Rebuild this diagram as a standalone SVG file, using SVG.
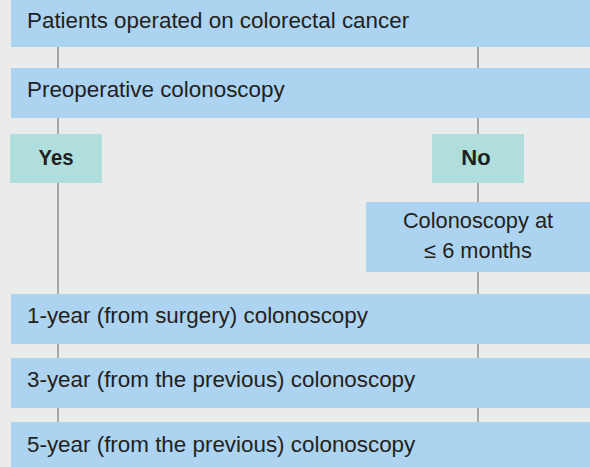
<svg xmlns="http://www.w3.org/2000/svg" width="590" height="467" viewBox="0 0 590 467">
<style>
.bar{fill:#acd3ef}
.tag{fill:#b0dedc}
.t{font-family:"Liberation Sans",Arial,sans-serif;font-size:22.4px;fill:#231f20}
.b{font-weight:bold;text-anchor:middle;font-size:22px}
.c{text-anchor:middle;font-size:21.8px}
.ln{stroke:#a6a6a6;stroke-width:2;fill:none}
</style>
<rect width="590" height="467" fill="#eaeceb"/>
<g id="connectors">
<line class="ln" x1="58" y1="40" x2="58" y2="430"/>
<line class="ln" x1="478" y1="40" x2="478" y2="430"/>
</g>
<g id="n1"><rect class="bar" x="11" y="-1" width="579" height="48"/><text class="t" x="27" y="28">Patients operated on colorectal cancer</text></g>
<g id="n2"><rect class="bar" x="11" y="68" width="579" height="50"/><text class="t" x="27" y="97">Preoperative colonoscopy</text></g>
<g id="yes"><rect class="tag" x="10" y="134" width="92" height="49"/><text class="t b" x="56" y="165" textLength="35" lengthAdjust="spacingAndGlyphs">Yes</text></g>
<g id="no"><rect class="tag" x="432" y="134" width="92" height="49"/><text class="t b" x="476" y="165">No</text></g>
<g id="n6m"><rect class="bar" x="366" y="202" width="224" height="70"/><text class="t c" x="478" y="228">Colonoscopy at</text><text class="t c" x="478" y="258">≤ 6 months</text></g>
<g id="n3"><rect class="bar" x="11" y="294" width="579" height="50"/><text class="t" x="27" y="323">1-year (from surgery) colonoscopy</text></g>
<g id="n4"><rect class="bar" x="11" y="358" width="579" height="50"/><text class="t" x="27" y="387">3-year (from the previous) colonoscopy</text></g>
<g id="n5"><rect class="bar" x="11" y="422" width="579" height="50"/><text class="t" x="27" y="452">5-year (from the previous) colonoscopy</text></g>
</svg>
